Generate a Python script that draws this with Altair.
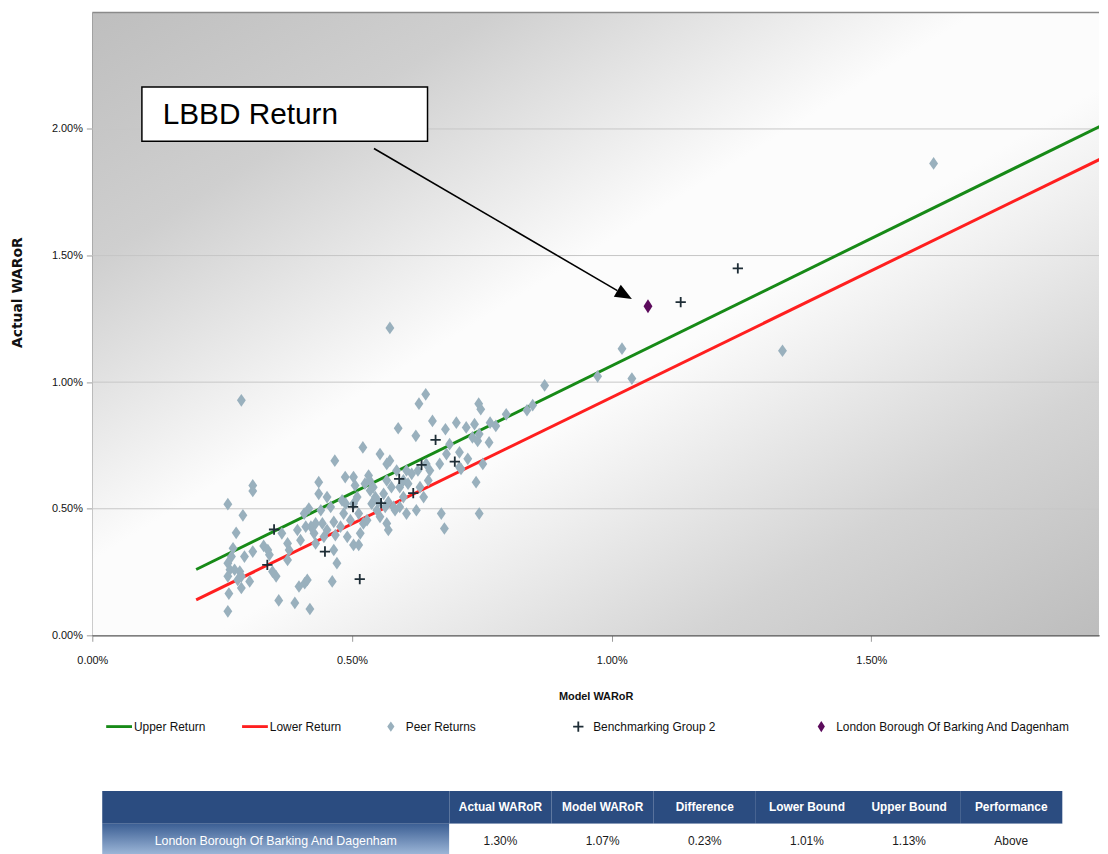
import altair as alt
import pandas as pd

# ---------------- data (values in %) ----------------
peer_x = [0.287, 0.261, 0.309, 0.309, 0.290, 0.277, 0.271, 0.261, 0.265, 0.274,
          0.284, 0.287, 0.261, 0.263, 0.261, 0.287, 0.303, 0.293, 0.309, 0.330,
          0.341, 0.347, 0.354, 0.359, 0.365, 0.376, 0.379, 0.390, 0.398, 0.409,
          0.414, 0.419, 0.395, 0.401, 0.408, 0.417, 0.421, 0.427, 0.430, 0.436,
          0.436, 0.440, 0.443, 0.452, 0.452, 0.459, 0.462, 0.465, 0.467, 0.468,
          0.471, 0.478, 0.481, 0.484, 0.487, 0.491, 0.497, 0.503, 0.506, 0.510,
          0.513, 0.516, 0.503, 0.513, 0.521, 0.522, 0.525, 0.532, 0.535, 0.538,
          0.541, 0.545, 0.548, 0.554, 0.554, 0.561, 0.567, 0.567, 0.570, 0.573,
          0.576, 0.580, 0.583, 0.586, 0.589, 0.592, 0.599, 0.605, 0.605, 0.608,
          0.615, 0.623, 0.624, 0.627, 0.629, 0.638, 0.642, 0.643, 0.647, 0.655,
          0.672, 0.669, 0.678, 0.680, 0.688, 0.701, 0.707, 0.710, 0.720, 0.723,
          0.732, 0.739, 0.742, 0.744, 0.748, 0.745, 0.752, 0.764, 0.766, 0.777,
          0.797, 0.736, 0.745, 0.534, 0.551, 0.564, 0.570, 0.592, 0.430, 0.411,
          0.465, 0.446, 0.376, 0.338, 0.268, 0.280, 0.599, 0.631, 0.650, 0.707,
          0.682, 0.488, 0.503, 0.529, 0.567,
          0.573, 0.871, 0.848, 0.837, 0.973, 1.020, 1.039, 1.329, 1.620]
peer_y = [0.928, 0.518, 0.592, 0.570, 0.474, 0.405, 0.344, 0.285, 0.259, 0.259,
          0.252, 0.233, 0.233, 0.165, 0.095, 0.187, 0.213, 0.311, 0.331, 0.353,
          0.318, 0.252, 0.233, 0.138, 0.403, 0.298, 0.337, 0.128, 0.193, 0.206,
          0.219, 0.104, 0.416, 0.376, 0.481, 0.501, 0.429, 0.403, 0.363, 0.605,
          0.559, 0.494, 0.442, 0.546, 0.416, 0.507, 0.213, 0.337, 0.690, 0.396,
          0.285, 0.429, 0.533, 0.481, 0.625, 0.389, 0.455, 0.625, 0.592, 0.546,
          0.481, 0.403, 0.357, 0.357, 0.742, 0.442, 0.599, 0.631, 0.572, 0.520,
          0.585, 0.546, 0.494, 0.716, 0.468, 0.559, 0.677, 0.442, 0.416, 0.690,
          0.585, 0.507, 0.494, 0.651, 0.818, 0.585, 0.546, 0.651, 0.481, 0.599,
          0.638, 0.788, 0.494, 0.651, 0.915, 0.546, 0.952, 0.677, 0.612, 0.847,
          0.481, 0.677, 0.422, 0.814, 0.755, 0.840, 0.723, 0.657, 0.821, 0.697,
          0.782, 0.605, 0.768, 0.915, 0.893, 0.481, 0.677, 0.762, 0.840, 0.827,
          0.873, 0.834, 0.795, 0.612, 0.527, 0.507, 0.527, 0.507, 0.442, 0.429,
          0.448, 0.389, 0.363, 0.337, 0.311, 0.219, 0.612, 0.585, 0.651, 0.664,
          0.716, 0.520, 0.520, 0.455, 0.612,
          1.214, 0.987, 0.909, 0.889, 1.023, 1.132, 1.014, 1.124, 1.864]

bench_x = [0.350, 0.337, 0.448, 0.515, 0.502, 0.556, 0.591, 0.618, 0.634, 0.661,
           0.698, 1.133, 1.243]
bench_y = [0.418, 0.278, 0.331, 0.222, 0.507, 0.522, 0.618, 0.562, 0.673, 0.772,
           0.686, 1.316, 1.449]

lbbd_x = [1.07]
lbbd_y = [1.30]

line_x = [0.20, 1.95]
upper_y = [0.26, 2.02]
lower_y = [0.14, 1.89]

series = ["Upper Return", "Lower Return", "Peer Returns",
          "Benchmarking Group 2", "London Borough Of Barking And Dagenham"]
colors = ["#178a17", "#ff1f1f", "#99b0bd", "#1e2d36", "#5c0b5c"]

x_ticks = [0.0, 0.5, 1.0, 1.5]
y_ticks = [0.0, 0.5, 1.0, 1.5, 2.0]
x_max = 1.9385
y_max = 2.46

# annotation
box_x = [0.0955, 0.6455]
box_y = [1.951, 2.166]
note_text = "LBBD Return"
note_pos = [0.1356, 2.056]
arrow_x = [0.5424, 1.011]
arrow_y = [1.923, 1.3615]
head_pos = [1.025, 1.3447]

# table
table_cols = ["Actual WARoR", "Model WARoR", "Difference", "Lower Bound",
              "Upper Bound", "Performance"]
table_vals = ["1.30%", "1.07%", "0.23%", "1.01%", "1.13%", "Above"]
table_row = "London Borough Of Barking And Dagenham"

# ---------------- styling ----------------
W, H = 1015, 628
ARIAL = "Liberation Sans, Arial, sans-serif"
ZW = "\u200b"

shapes = [
    "M-1,-0.11H1V0.11H-1Z",
    "M-1,-0.11H1V0.11H-1Z",
    "M0,-0.4L0.28,0L0,0.4L-0.28,0Z",
    "M-0.4,-0.07H0.4V0.07H-0.4Z M-0.07,-0.4H0.07V0.4H-0.07Z",
    "M0,-0.44L0.28,0L0,0.44L-0.28,0Z",
]

xs = alt.Scale(domain=[0, x_max], nice=False, zero=False)
ys = alt.Scale(domain=[0, y_max], nice=False, zero=False)
pct = "format(datum.value, '.2f') + '%'"

x_axis = alt.Axis(values=x_ticks, labelExpr=pct, grid=False, title="Model WARoR",
                  domainColor="#555555", domainWidth=1.5, tickColor="#9a9a9a",
                  tickSize=6, labelPadding=13, labelFont=ARIAL, labelFontSize=11,
                  labelColor="#111111", labelFlush=False, titleFont=ARIAL,
                  titleFontSize=11, titleFontWeight="bold", titleColor="#111111",
                  titleY=62, titleBaseline="middle")
y_axis = alt.Axis(values=y_ticks, labelExpr=pct, grid=False, title="Actual WARoR",
                  domainColor="#555555", domainWidth=1.5, tickColor="#9a9a9a",
                  tickSize=6, labelPadding=4, labelFont=ARIAL, labelFontSize=11,
                  labelColor="#111111", labelFlush=False, titleFont="DejaVu Sans",
                  titleFontSize=14, titleFontWeight="bold", titleColor="#111111",
                  titleX=-75, titleY=282, titleAngle=270, titleAlign="center",
                  titleBaseline="middle")


def X(f):
    return alt.X(f, type="quantitative", scale=xs, axis=x_axis)


def Y(f):
    return alt.Y(f, type="quantitative", scale=ys, axis=y_axis)


legend = alt.Legend(
    orient="none", legendX=14, legendY=707, direction="horizontal", columns=5,
    columnPadding=36, title=None, symbolSize=676, symbolStrokeWidth=0,
    symbolOpacity=1, labelFont=ARIAL, labelFontSize=12, labelColor="#111111",
    labelOffset=2, padding=0, labelLimit=0,
    labelExpr=("datum.label == 'Peer Returns'"
               " ? pad(datum.label, length(datum.label) + 16) + '" + ZW + "'"
               " : (datum.label == 'Benchmarking Group 2'"
               " ? pad(datum.label, length(datum.label) + 17) + '" + ZW + "'"
               " : datum.label)"),
)
cs = alt.Scale(domain=series, range=colors)
ss = alt.Scale(domain=series, range=shapes)

grad_bg = {
    "gradient": "linear", "x1": 0, "y1": 0, "x2": 1, "y2": 1,
    "stops": [
        {"offset": 0.0, "color": "#bebebe"},
        {"offset": 0.2, "color": "#cfcfcf"},
        {"offset": 0.44, "color": "#fcfcfc"},
        {"offset": 0.56, "color": "#fcfcfc"},
        {"offset": 0.8, "color": "#d4d4d4"},
        {"offset": 1.0, "color": "#bdbdbd"},
    ],
}

one = pd.DataFrame({"k": [0]})
bg = alt.Chart(one).mark_rect(fill=grad_bg).encode(
    x=alt.value(0), x2=alt.value(W), y=alt.value(0), y2=alt.value(H))

grid = alt.Chart(pd.DataFrame({"v": y_ticks[1:]})).mark_rule(
    color="#c6c6c6", strokeWidth=1).encode(y=Y("v"))
top_edge = alt.Chart(pd.DataFrame({"v": [y_max]})).mark_rule(
    color="#8a8a8a", strokeWidth=1.5).encode(y=Y("v"))

up_df = pd.DataFrame({"x": line_x, "y": upper_y})
lo_df = pd.DataFrame({"x": line_x, "y": lower_y})
up_line = alt.Chart(up_df).mark_line(color=colors[0], strokeWidth=3, clip=True).encode(
    x=X("x"), y=Y("y"))
lo_line = alt.Chart(lo_df).mark_line(color=colors[1], strokeWidth=3, clip=True).encode(
    x=X("x"), y=Y("y"))

peer_df = pd.DataFrame({"x": peer_x, "y": peer_y, "series": series[2]})
bench_df = pd.DataFrame({"x": bench_x, "y": bench_y, "series": series[3]})
lbbd_df = pd.DataFrame({"x": lbbd_x, "y": lbbd_y, "series": series[4]})


def pts(df, size):
    return alt.Chart(df).mark_point(filled=True, size=size, opacity=1,
                                    strokeWidth=0).encode(
        x=X("x"), y=Y("y"),
        color=alt.Color("series:N", scale=cs, legend=legend),
        shape=alt.Shape("series:N", scale=ss, legend=legend))


peers = pts(peer_df, 1024)
bench = pts(bench_df, 676)
lbbd = pts(lbbd_df, 1024)

box_df = pd.DataFrame({"x0": [box_x[0]], "x1": [box_x[1]],
                       "y0": [box_y[0]], "y1": [box_y[1]]})
box = alt.Chart(box_df).mark_rect(fill="white", stroke="black",
                                  strokeWidth=1.5).encode(
    x=X("x0"), x2="x1", y=Y("y0"), y2="y1")
note_df = pd.DataFrame({"x": [note_pos[0]], "y": [note_pos[1]], "t": [note_text]})
note = alt.Chart(note_df).mark_text(align="left", baseline="middle", font=ARIAL,
                                    fontSize=30, color="black").encode(
    x=X("x"), y=Y("y"), text="t:N")
arrow_df = pd.DataFrame({"x": arrow_x, "y": arrow_y})
arrow = alt.Chart(arrow_df).mark_line(color="black", strokeWidth=1.6).encode(
    x=X("x"), y=Y("y"))
head_df = pd.DataFrame({"x": [head_pos[0]], "y": [head_pos[1]]})
head = alt.Chart(head_df).mark_point(shape="M0,-1L-0.82,1L0.82,1Z", filled=True,
                                     color="black", size=289, angle=120, opacity=1,
                                     strokeWidth=0).encode(x=X("x"), y=Y("y"))

top = alt.layer(bg, grid, top_edge, up_line, lo_line, peers, bench, lbbd,
                box, note, arrow, head).properties(width=W, height=H)

# ---------------- table ----------------
HEADER = "#2b4c80"
rows = ["header", "value"]
row_scale = alt.Scale(domain=rows, paddingInner=0, paddingOuter=0)
grad_cell = {
    "gradient": "linear", "x1": 0, "y1": 0, "x2": 0, "y2": 1,
    "stops": [{"offset": 0, "color": "#3c5f94"}, {"offset": 1, "color": "#a3bcdc"}],
}
lab_x = alt.Scale(domain=["label"], paddingInner=0, paddingOuter=0.0143, align=1)

lab_head = alt.Chart(pd.DataFrame({"c": ["label"], "r": ["header"]})).mark_rect(
    fill=HEADER).encode(
    x=alt.X("c:N", scale=lab_x, axis=None), y=alt.Y("r:N", scale=row_scale, axis=None))
lab_val = alt.Chart(pd.DataFrame({"c": ["label"], "r": ["value"], "t": [table_row]})
                    ).mark_rect(fill=grad_cell).encode(
    x=alt.X("c:N", scale=lab_x, axis=None), y=alt.Y("r:N", scale=row_scale, axis=None))
lab_txt = alt.Chart(pd.DataFrame({"c": ["label"], "r": ["value"], "t": [table_row]})
                    ).mark_text(font=ARIAL, fontSize=12.5, color="white", dy=1).encode(
    x=alt.X("c:N", scale=lab_x, axis=None), y=alt.Y("r:N", scale=row_scale, axis=None),
    text="t:N")
label_chart = alt.layer(lab_head, lab_val, lab_txt).properties(width=360, height=66)

col_scale = alt.Scale(domain=table_cols, paddingInner=0, paddingOuter=0)
head_df2 = pd.DataFrame({"c": table_cols, "r": "header"})
val_df2 = pd.DataFrame({"c": table_cols, "r": "value", "t": table_vals})
t_head = alt.Chart(head_df2).mark_rect(fill=HEADER).encode(
    x=alt.X("c:N", scale=col_scale, axis=None), y=alt.Y("r:N", scale=row_scale, axis=None))
t_val = alt.Chart(val_df2).mark_rect(fill="white").encode(
    x=alt.X("c:N", scale=col_scale, axis=None), y=alt.Y("r:N", scale=row_scale, axis=None))
t_head_txt = alt.Chart(head_df2).mark_text(font=ARIAL, fontSize=12, fontWeight="bold",
                                           color="white").encode(
    x=alt.X("c:N", scale=col_scale, axis=None), y=alt.Y("r:N", scale=row_scale, axis=None),
    text="c:N")
t_val_txt = alt.Chart(val_df2).mark_text(font=ARIAL, fontSize=12, color="#1a1a1a",
                                         dy=1).encode(
    x=alt.X("c:N", scale=col_scale, axis=None), y=alt.Y("r:N", scale=row_scale, axis=None),
    text="t:N")
value_chart = alt.layer(t_head, t_val, t_head_txt, t_val_txt).properties(
    width=618, height=66)

bottom = alt.hconcat(label_chart, value_chart, spacing=0, bounds="flush")

chart = alt.vconcat(top, bottom, spacing=157, bounds="flush").properties(
    padding={"left": 3, "top": 0, "right": 0, "bottom": 0}
).configure_view(stroke=None)

chart.save("out.html", embed_options={"renderer": "svg", "actions": False})
